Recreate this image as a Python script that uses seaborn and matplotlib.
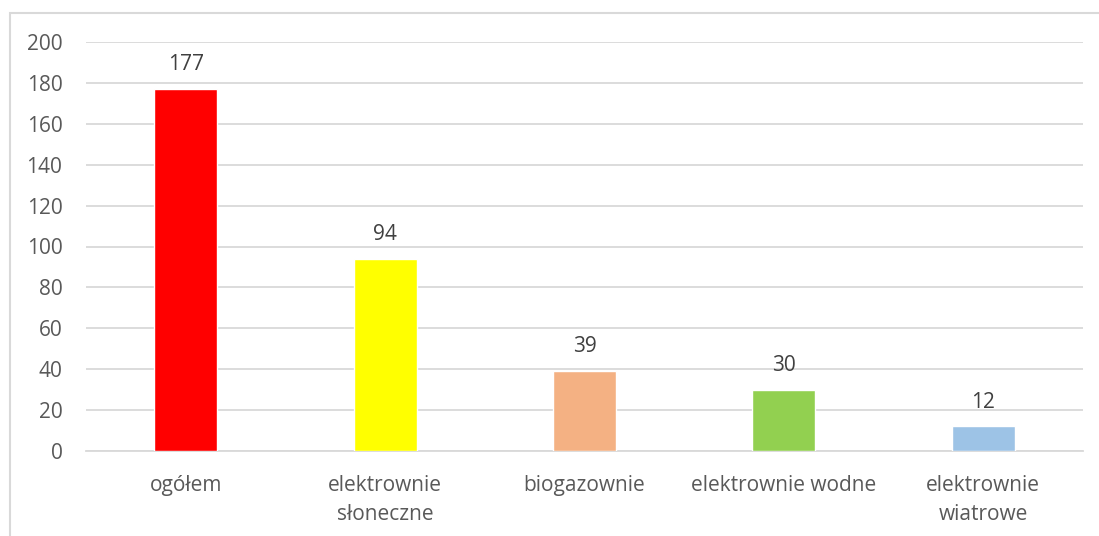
import matplotlib
matplotlib.use("Agg")
import matplotlib.pyplot as plt
import seaborn as sns
import pandas as pd
from matplotlib.patches import Rectangle

categories = ["ogółem", "elektrownie\nsłoneczne", "biogazownie", "elektrownie wodne", "elektrownie\nwiatrowe"]
values = [177, 94, 39, 30, 12]
colors = ["#FF0000", "#FFFF00", "#F4B183", "#92D050", "#9DC3E6"]
y_ticks = [0, 20, 40, 60, 80, 100, 120, 140, 160, 180, 200]

sns.set_style("white")
plt.rcParams["font.family"] = ["Open Sans", "DejaVu Sans"]
text_color = "#595959"

df = pd.DataFrame({"kategoria": categories, "liczba": values})

fig = plt.figure(figsize=(10.99, 5.36), dpi=100)
ax = fig.add_axes([86 / 1099, 1 - 451 / 536, 997 / 1099, 409 / 536])

sns.barplot(data=df, x="kategoria", y="liczba", hue="kategoria", palette=colors,
            width=0.316, legend=False, ax=ax, saturation=1, zorder=3)

ax.set_ylim(0, 200)
ax.set_xlim(-0.5, len(categories) - 0.5)
ax.set_yticks(y_ticks)
ax.yaxis.grid(True, color="#D9D9D9", linewidth=1.3, zorder=0)
ax.set_axisbelow(True)
for s in ["top", "right", "left"]:
    ax.spines[s].set_visible(False)
ax.spines["bottom"].set_color("#D9D9D9")
ax.spines["bottom"].set_linewidth(1.3)
ax.set_xlabel("")
ax.set_ylabel("")
ax.tick_params(axis="y", length=0, pad=17, labelsize=15, labelcolor=text_color)
ax.tick_params(axis="x", length=0, pad=17.5, labelsize=15, labelcolor=text_color)
for lbl in ax.get_xticklabels():
    lbl.set_linespacing(1.5)

for i, v in enumerate(values):
    ax.annotate(str(v), (i, v), xytext=(0, 10), textcoords="offset points",
                ha="center", va="bottom", fontsize=15, color="#404040")

# ramka wykresu
fig.patches.append(Rectangle((10 / 1099, -0.1), 1.2, 1 - 13 / 536 + 0.1,
                             transform=fig.transFigure, fill=False,
                             edgecolor="#D9D9D9", linewidth=1.5))

fig.savefig("out.png", dpi=100)
